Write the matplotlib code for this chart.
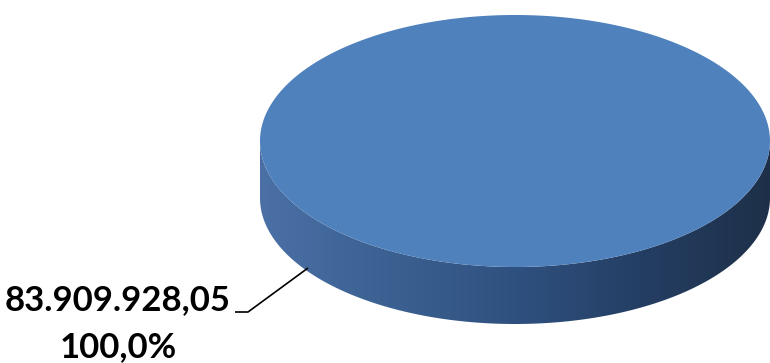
import numpy as np
import matplotlib
matplotlib.use("Agg")
import matplotlib.pyplot as plt
from matplotlib.patches import Polygon
from matplotlib.path import Path
from matplotlib.colors import LinearSegmentedColormap

# ---- data ----
categories = ["Total"]
values = [83909928.05]
value_labels = ["83.909.928,05"]
pct_labels = ["100,0%"]

W, H = 770, 363
fig = plt.figure(figsize=(W / 100, H / 100), dpi=100)
ax = fig.add_axes([0, 0, 1, 1])
ax.set_xlim(0, W)
ax.set_ylim(H, 0)
ax.axis("off")

cx, cy, a, b, depth = 515, 141, 255, 126, 57
top_color = "#4f81bd"
side_cmap = LinearSegmentedColormap.from_list(
    "side", ["#4a70a6", "#3b6192", "#2f5180", "#243e63", "#1e3049"])

total = float(np.sum(values))
start = 0.0
for v in values:
    frac = v / total
    t = np.linspace(start, start + 2 * np.pi * frac, 400)
    start += 2 * np.pi * frac
    # front side (lower half of ellipse visible)
    tf = np.linspace(0, np.pi, 300)
    xs = cx + a * np.cos(tf)
    ys = cy + b * np.sin(tf)
    side_pts = np.concatenate([np.column_stack([xs, ys]),
                               np.column_stack([xs[::-1], ys[::-1] + depth])])
    side = Polygon(side_pts, closed=True, facecolor="none", edgecolor="none")
    ax.add_patch(side)
    grad = np.linspace(0, 1, 256).reshape(1, -1)
    im = ax.imshow(grad, cmap=side_cmap, extent=[cx - a, cx + a, cy + b + depth, cy],
                   aspect="auto", zorder=1, interpolation="bilinear")
    im.set_clip_path(side)
    # top face
    pts = np.column_stack([cx + a * np.cos(t), cy + b * np.sin(t)])
    if frac < 1:
        pts = np.vstack([[cx, cy], pts])
    ax.add_patch(Polygon(pts, closed=True, facecolor=top_color,
                         edgecolor="none", zorder=2))

# leader line and label
ax.plot([235, 248, 308], [312, 312, 268], color="black", lw=1.2, zorder=3,
        solid_capstyle="butt")
ax.text(118, 300, value_labels[0], ha="center", va="center",
        fontsize=25, fontweight="bold", family="Lato", color="black")
ax.text(118, 347, pct_labels[0], ha="center", va="center",
        fontsize=25, fontweight="bold", family="Lato", color="black")

fig.savefig("out.png", dpi=100)
